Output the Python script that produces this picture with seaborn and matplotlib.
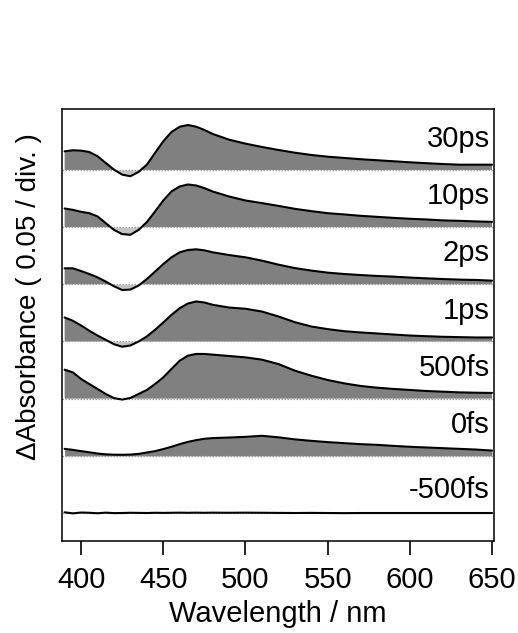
import numpy as np
import pandas as pd
import matplotlib
matplotlib.use("Agg")
import matplotlib.pyplot as plt
import seaborn as sns

# ---- data (mOD) ----
wavelength = [390, 395, 400, 405, 410, 415, 420, 425, 430, 435, 440, 445, 450, 455,
              460, 465, 470, 475, 480, 490, 500, 510, 520, 530, 540, 550, 560, 570,
              580, 590, 600, 610, 620, 630, 640, 650]

delays = ["-500fs", "0fs", "500fs", "1ps", "2ps", "10ps", "30ps"]

dA_m500fs = [0.6, -0.3, 0.4, 0.2, -0.2, 0.3, -0.1, 0.0, 0.2, 0.1, 0.0, 0.2, 0.1, 0.2,
             0.3, 0.2, 0.3, 0.2, 0.3, 0.2, 0.3, 0.2, 0.1, 0.0, 0.1, 0.0, -0.1, 0.0,
             0.0, 0.0, 0.0, 0.0, 0.0, 0.0, 0.0, 0.0]
dA_0fs = [6.1, 5.2, 4.1, 3.1, 2.0, 1.3, 1.0, 0.9, 1.1, 1.7, 2.9, 4.1, 5.9, 7.9,
          10.2, 12.2, 13.7, 14.9, 15.5, 16.0, 16.6, 17.5, 16.2, 14.4, 13.1, 12.0, 11.1, 10.2,
          9.6, 8.7, 7.9, 7.3, 6.7, 6.1, 5.5, 4.6]
dA_500fs = [25.3, 23.0, 17.2, 12.8, 8.5, 4.1, 0.5, -0.8, 0.6, 4.1, 7.6, 12.8, 18.6, 26.0,
            33.2, 37.6, 39.1, 39.1, 38.5, 37.3, 36.1, 34.1, 30.3, 24.5, 20.1, 16.3, 13.4, 11.1,
            9.6, 8.5, 7.6, 6.7, 6.1, 5.5, 5.2, 5.0]
dA_1ps = [21.0, 18.1, 14.0, 9.4, 5.2, 1.5, -2.4, -4.6, -3.5, 0.0, 4.4, 10.2, 16.6, 23.3,
          29.1, 33.2, 35.0, 34.1, 32.1, 29.7, 28.6, 26.2, 21.9, 16.9, 13.1, 10.8, 9.0, 7.9,
          7.0, 6.1, 5.2, 4.6, 4.1, 3.8, 3.5, 3.5]
dA_2ps = [14.0, 14.0, 11.6, 9.0, 6.1, 2.4, -1.7, -5.0, -4.6, -1.1, 4.6, 11.1, 17.7, 23.6,
          28.0, 30.0, 30.6, 29.7, 28.0, 25.6, 23.6, 20.7, 17.2, 14.2, 12.0, 10.2, 9.0, 8.1,
          7.3, 6.7, 5.9, 5.2, 4.6, 4.1, 3.8, 3.2]
dA_10ps = [16.3, 15.1, 13.4, 12.2, 9.4, 3.5, -2.4, -6.1, -6.7, -2.4, 4.4, 13.7, 23.3, 31.2,
           35.6, 37.3, 36.4, 34.1, 31.2, 26.8, 23.3, 21.0, 18.6, 16.0, 14.0, 12.2, 11.1, 9.9,
           9.0, 8.1, 7.3, 6.7, 5.9, 5.5, 5.0, 4.6]
dA_30ps = [16.3, 17.2, 16.9, 15.7, 12.0, 6.1, 0.3, -4.1, -5.5, -1.7, 4.6, 14.9, 25.1, 33.2,
           37.8, 39.3, 37.8, 35.0, 31.5, 26.5, 23.0, 20.1, 17.5, 15.1, 13.1, 11.6, 10.5, 9.4,
           8.5, 7.6, 6.7, 5.9, 5.2, 4.6, 4.6, 4.6]

series = [dA_m500fs, dA_0fs, dA_500fs, dA_1ps, dA_2ps, dA_10ps, dA_30ps]
offset_step = 50.0   # 0.05 / div  -> 50 mOD
label_lift = [13, 20, 20, 20, 20, 20, 20]

rows = []
for i, (name, vals) in enumerate(zip(delays, series)):
    for w, v in zip(wavelength, vals):
        rows.append({"wavelength": w, "dA": v, "delay": name, "offset": i * offset_step})
df = pd.DataFrame(rows)
df["y"] = df["dA"] + df["offset"]

# ---- plot ----
sns.set_theme(style="white")
plt.rcParams["font.family"] = ["Liberation Sans", "DejaVu Sans"]
plt.rcParams["text.color"] = "black"
plt.rcParams["axes.labelcolor"] = "black"
plt.rcParams["xtick.color"] = "black"
plt.rcParams["xtick.labelcolor"] = "black"

fig = plt.figure(figsize=(5.18, 6.33), dpi=100)
ax = fig.add_axes([0.1197, 0.1453, 0.8340, 0.6825])

for i, name in enumerate(delays):
    sub = df[df["delay"] == name]
    base = i * offset_step
    x = sub["wavelength"].to_numpy()
    y = sub["y"].to_numpy()
    ax.fill_between(x, base, y, where=y >= base, interpolate=True,
                    color="#808080", linewidth=0, zorder=1)
    ax.fill_between(x, base, y, where=y <= base, interpolate=True,
                    color="#c4c4c4", linewidth=0, zorder=1)
    ax.axhline(base, color="#a0a0a0", lw=0.9, ls=(0, (1.2, 1.2)), zorder=2)
    sns.lineplot(data=sub, x="wavelength", y="y", color="black", lw=1.5,
                 ax=ax, legend=False, zorder=3)
    ax.text(0.99, base + label_lift[i], name, transform=ax.get_yaxis_transform(),
            ha="right", va="baseline", fontsize=21)

ax.set_xlim(388.4, 651.2)
ax.set_ylim(-24.5, 353.3)
ax.set_xticks([400, 450, 500, 550, 600, 650])
ax.set_yticks([])
ax.tick_params(axis="x", direction="out", length=10, width=1.2, pad=8,
               labelsize=21, bottom=True, color="black")
for s in ax.spines.values():
    s.set_color("black")
    s.set_linewidth(1.1)

ax.set_xlabel("Wavelength / nm", fontsize=21, labelpad=4)
ax.set_ylabel("ΔAbsorbance ( 0.05 / div. )", fontsize=20)
ax.yaxis.set_label_coords(-0.046, 0.565)

fig.savefig("out.png", dpi=100)
